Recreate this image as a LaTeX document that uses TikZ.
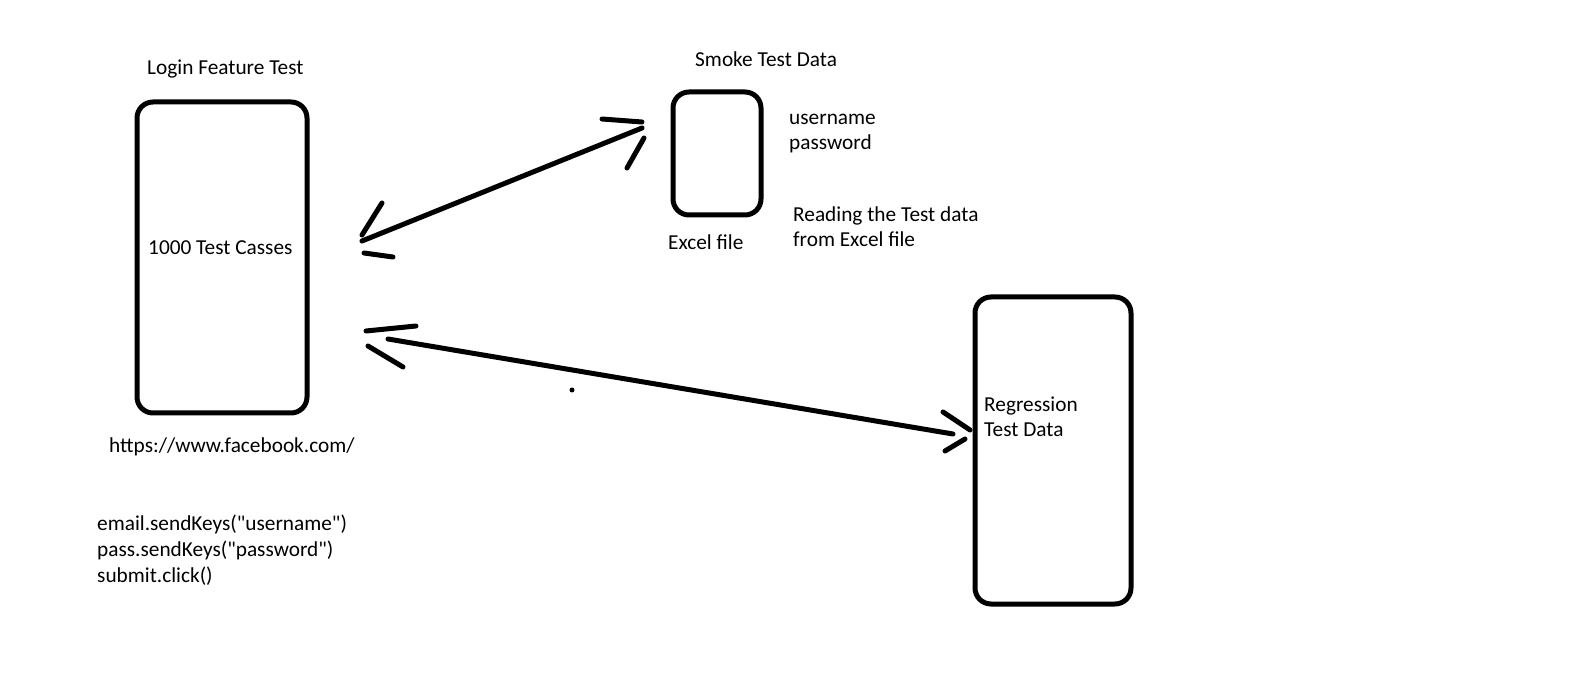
\documentclass[tikz,border=0pt]{standalone}
\usepackage{fontspec}
\newfontfamily\calfont{Carlito}
\begin{document}
\begin{tikzpicture}[x=1pt,y=-1pt,
  paint/.style={line width=5pt,line cap=round,line join=round},
  box/.style={paint,rounded corners=16pt},
  txt/.style={anchor=base west,inner sep=0pt,font=\calfont\fontsize{21.3}{25.7}\selectfont,align=left}]
\useasboundingbox[fill=white] (0,0) rectangle (1575,692);
% boxes
\draw[box] (137,102) rectangle (307,413);
\draw[box] (673,92) rectangle (761,215);
\draw[box] (975,297) rectangle (1131,604);
% texts (base anchor = baseline of last line)
\node[txt] (t1) at (147,75) {Login Feature Test};
\node[txt] (t2) at (148,255) {1000 Test Casses};
\node[txt] (t3) at (109,453) {https://www.facebook.com/};
\node[txt] (t4) at (97,582) {email.sendKeys("username")\\pass.sendKeys("password")\\submit.click()};
\node[txt] (t5) at (695,67) {Smoke Test Data};
\node[txt] (t6) at (789,150) {username\\password};
\node[txt] (t7) at (793,247) {Reading the Test data\\from Excel file};
\node[txt] (t8) at (668,250) {Excel file};
\node[txt] (t9) at (984,437) {Regression\\Test Data};
% arrow 1
\coordinate (a1s) at (362,241);
\coordinate (a1e) at (642,128);
\draw[paint] (a1s) -- (a1e);
\draw[paint] (362,235) -- (382,203);
\draw[paint] (364,253) -- (393,257);
\draw[paint] (602,119) -- (642,122);
\draw[paint] (644,138) -- (627,168);
% arrow 2
\coordinate (a2s) at (388,339);
\coordinate (a2e) at (953,434);
\draw[paint] (a2s) -- (a2e);
\draw[paint] (366,331) -- (416,326);
\draw[paint] (368,346) -- (403,367);
\draw[paint] (943,412) -- (970,430);
\draw[paint] (945,451) -- (965,439);
% dot
\fill (572,390) circle (2.5pt);
\end{tikzpicture}
\end{document}
